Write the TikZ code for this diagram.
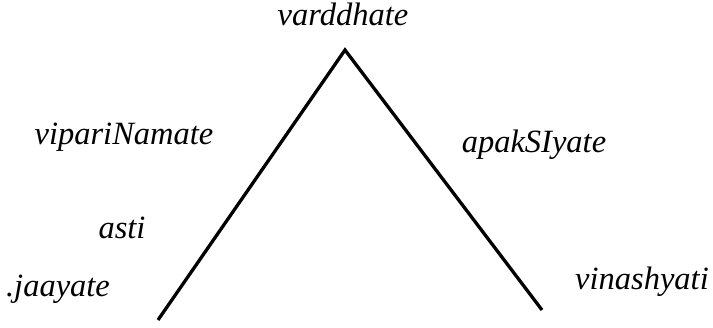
\documentclass[tikz,border=0pt]{standalone}
\usepackage{fontspec}
\setmainfont{Liberation Serif}
\begin{document}
\begin{tikzpicture}[x=1pt, y=-1pt, font=\fontsize{32.5}{38}\selectfont\itshape]
		\tikzset{stage/.style={inner sep=0pt, anchor=base}}
		\useasboundingbox (0,0) rectangle (713,328);

		% --- corners of the curve ---
		\coordinate (birth) at (158,320);
		\coordinate (peak)  at (345,50);
		\coordinate (death) at (542,310);

		% --- rise and fall ---
		\draw[line width=3.3pt, line join=miter] (birth) -- (peak) -- (death);

		% --- stage labels ---
		\node[stage] (varddhate)    at (343,26)  {varddhate};
		\node[stage] (viparinamate) at (124,145) {vipariNamate};
		\node[stage] (apaksiyate)   at (534,153) {apakSIyate};
		\node[stage] (asti)         at (122,239) {asti};
		\node[stage] (jaayate)      at (58,297)  {.jaayate};
		\node[stage] (vinashyati)   at (642,290) {vinashyati};
	\end{tikzpicture}
\end{document}
